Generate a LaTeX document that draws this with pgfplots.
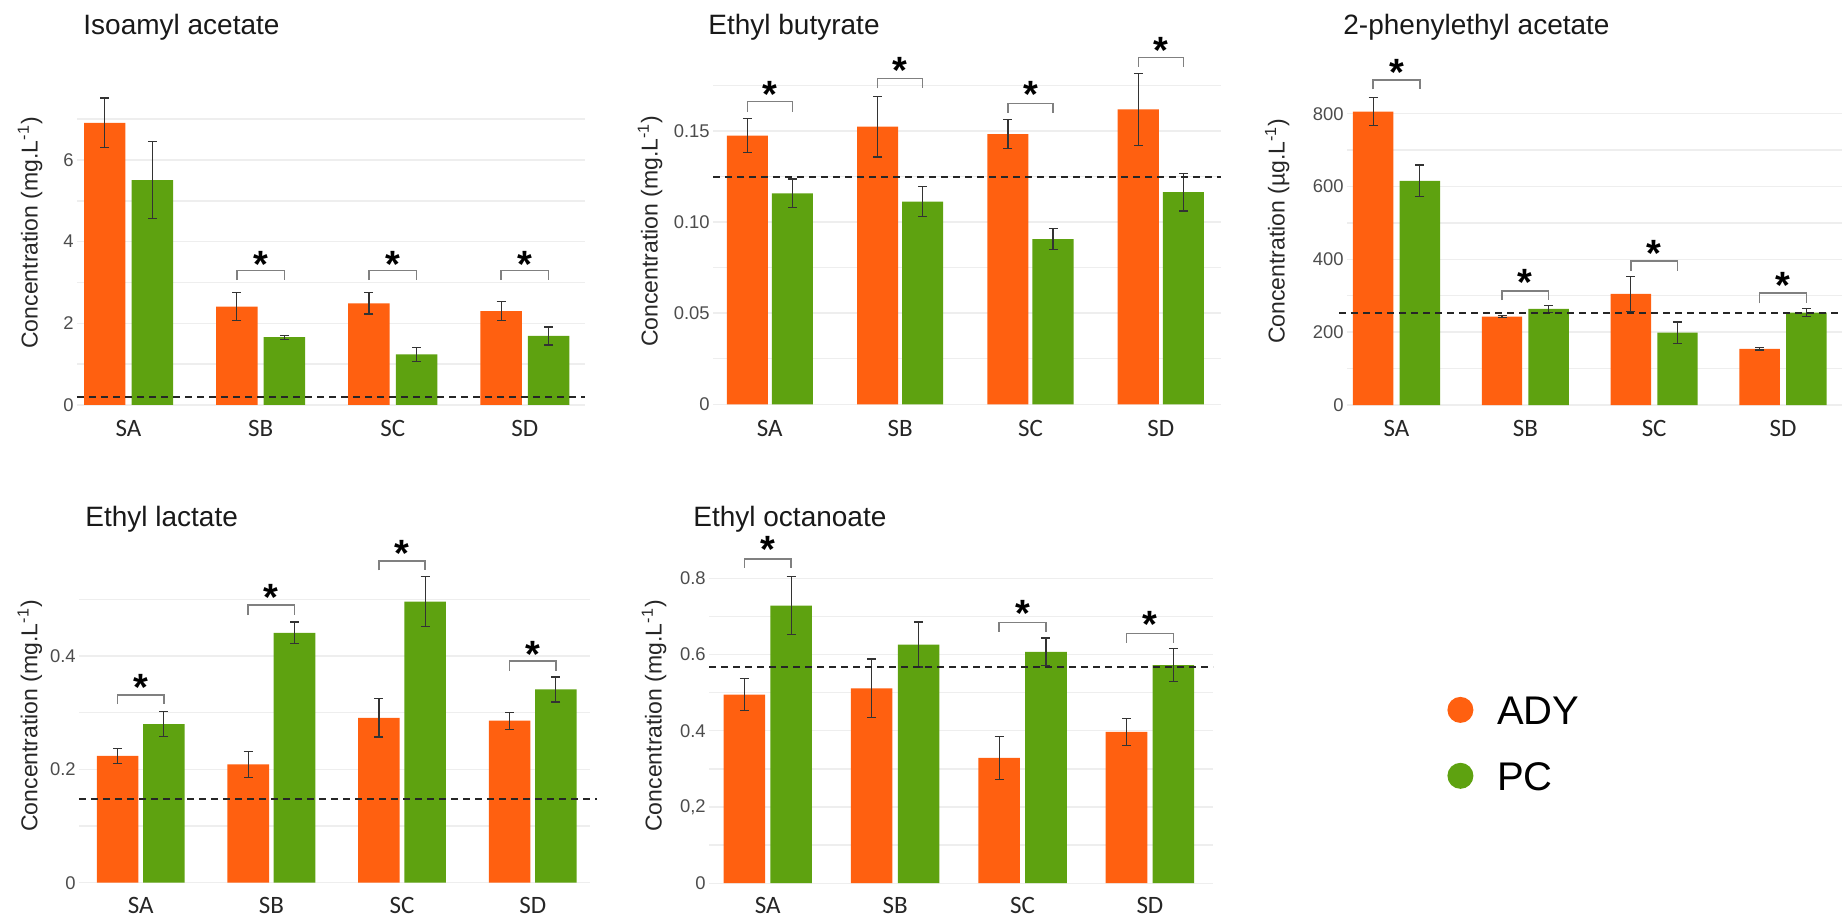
\documentclass[border=0pt]{standalone}
\usepackage{fontspec}
\setmainfont{Liberation Sans}
\newfontfamily\carlito{Carlito}
\usepackage{pgfplots}
\usepackage{pgfplotstable}
\pgfplotsset{compat=1.18}
\definecolor{ady}{RGB}{255,96,16}
\definecolor{pc}{RGB}{94,162,16}
\definecolor{gridc}{RGB}{238,238,238}

\pgfplotstableread{
xa xb ady adye pc pce
-0.18 0.18 6.91 0.61 5.51 0.94
0.82 1.18 2.41 0.34 1.66 0.05
1.82 2.18 2.49 0.26 1.24 0.17
2.82 3.18 2.30 0.24 1.69 0.22
}\isoamyl
\pgfplotstableread{
xa xb ady adye pc pce
-0.173 0.173 0.1475 0.0093 0.1158 0.0078
0.827 1.173 0.1524 0.0167 0.1112 0.0082
1.827 2.173 0.1482 0.0080 0.0906 0.0058
2.827 3.173 0.1619 0.0198 0.1164 0.0103
}\butyrate
\pgfplotstableread{
xa xb ady adye pc pce
-0.181 0.181 806 39 616 43
0.819 1.181 243 3 264 9
1.819 2.181 305 48 199 29
2.819 3.181 154 3 254 11
}\phenyl
\pgfplotstableread{
xa xb ady adye pc pce
-0.177 0.177 0.224 0.013 0.280 0.022
0.823 1.177 0.209 0.023 0.441 0.019
1.823 2.177 0.291 0.034 0.496 0.044
2.823 3.177 0.286 0.015 0.341 0.022
}\lactate
\pgfplotstableread{
xa xb ady adye pc pce
-0.184 0.184 0.495 0.041 0.728 0.076
0.816 1.184 0.511 0.077 0.626 0.059
1.816 2.184 0.329 0.056 0.607 0.036
2.816 3.184 0.397 0.035 0.572 0.043
}\octanoate

\tikzset{sig/.style={font=\bfseries\fontsize{19}{20}\selectfont, anchor=base, yshift=-11pt, text=black}}
\pgfplotsset{
  panel/.style={
    scale only axis, anchor=south west, clip=false,
    axis line style={draw=none}, tick style={draw=none},
    major tick length=0pt, minor tick length=0pt,
    ymajorgrids, yminorgrids,
    major grid style={draw=gridc, line width=0.7pt},
    minor grid style={draw=gridc, line width=0.7pt},
    xtick={0,1,2,3}, xticklabels={SA,SB,SC,SD},
    xticklabel style={font=\carlito\fontsize{12.5}{15}\selectfont, text=black!85, anchor=base, yshift=-15pt},
    yticklabel style={font=\fontsize{9.2}{11}\selectfont, text=black!70, inner sep=1.5pt},
    ylabel style={font=\fontsize{11.5}{14}\selectfont, text=black!85, anchor=center},
    scaled y ticks=false,
  },
  ebars/.style={error bars/y dir=both, error bars/y explicit,
    error bars/error mark=|,
    error bars/error bar style={line width=0.6pt, black!80},
    error bars/error mark options={line width=0.6pt, black!80, mark size=2.25pt}},
  barA/.style={ybar, fill=ady, draw=none, bar width=#1, bar shift=0pt, ebars},
  barB/.style={ybar, fill=pc, draw=none, bar width=#1, bar shift=0pt, ebars},
  thr/.style={black!85, line width=1pt, dash pattern=on 3.5pt off 2.5pt},
  brk/.style={black!50, line width=0.75pt},
}
\newcommand\ttl{\fontsize{14}{16}\selectfont}

\begin{document}
\begin{tikzpicture}
\useasboundingbox (0,0) rectangle (921pt,458.5pt);

% Titles
\node[anchor=base west, font=\ttl, text=black!90, inner sep=0pt] at (41.5pt,441.35pt) {Isoamyl acetate};
\node[anchor=base west, font=\ttl, text=black!90, inner sep=0pt] at (354pt,441.35pt) {Ethyl butyrate};
\node[anchor=base west, font=\ttl, text=black!90, inner sep=0pt] at (671.5pt,441.35pt) {2-phenylethyl acetate};
\node[anchor=base west, font=\ttl, text=black!90, inner sep=0pt] at (42.5pt,195.15pt) {Ethyl lactate};
\node[anchor=base west, font=\ttl, text=black!90, inner sep=0pt] at (346.5pt,195.15pt) {Ethyl octanoate};

% Panel 1: Isoamyl acetate
\begin{axis}[panel, at={(38.5pt,255.4pt)}, width=254pt, height=157.8pt,
  xmin=-0.39, xmax=3.455, ymin=-0.03, ymax=7.7,
  ytick={0,2,4,6}, yticklabels={0,2,4,6}, minor ytick={1,3,5,7},
  ylabel={Concentration (mg.L\textsuperscript{-1})},
  ylabel style={at={(axis description cs:-0.0925,0.549)}}]
\addplot[barA=0.314] table[x=xa, y=ady, y error=adye] {\isoamyl};
\addplot[barB=0.314] table[x=xb, y=pc, y error=pce] {\isoamyl};
\addplot[thr] coordinates {(-0.39,0.19) (3.455,0.19)};
\addplot[brk] coordinates {(0.82,3.06) (0.82,3.29) (1.18,3.29) (1.18,3.06)};
\addplot[brk] coordinates {(1.82,3.06) (1.82,3.29) (2.18,3.29) (2.18,3.06)};
\addplot[brk] coordinates {(2.82,3.06) (2.82,3.29) (3.18,3.29) (3.18,3.06)};
\node[sig] at (axis cs:1,3.67) {*};
\node[sig] at (axis cs:2,3.67) {*};
\node[sig] at (axis cs:3,3.67) {*};
\end{axis}

% Panel 2: Ethyl butyrate
\begin{axis}[panel, at={(356.5pt,255pt)}, width=254pt, height=165.35pt,
  xmin=-0.436, xmax=3.462, ymin=-0.0015, ymax=0.18,
  ytick={0,0.05,0.10,0.15}, yticklabels={0,0.05,0.10,0.15}, minor ytick={0.025,0.075,0.125,0.175},
  ylabel={Concentration (mg.L\textsuperscript{-1})},
  ylabel style={at={(axis description cs:-0.124,0.532)}}]
\addplot[barA=0.315] table[x=xa, y=ady, y error=adye] {\butyrate};
\addplot[barB=0.315] table[x=xb, y=pc, y error=pce] {\butyrate};
\addplot[thr] coordinates {(-0.436,0.125) (3.462,0.125)};
\addplot[brk] coordinates {(-0.173,0.1606) (-0.173,0.1661) (0.173,0.1661) (0.173,0.1606)};
\addplot[brk] coordinates {(0.827,0.1734) (0.827,0.1789) (1.173,0.1789) (1.173,0.1734)};
\addplot[brk] coordinates {(1.827,0.1600) (1.827,0.1652) (2.173,0.1652) (2.173,0.1600)};
\addplot[brk] coordinates {(2.827,0.1853) (2.827,0.1903) (3.173,0.1903) (3.173,0.1853)};
\node[sig] at (axis cs:0,0.1747) {*};
\node[sig] at (axis cs:1,0.188) {*};
\node[sig] at (axis cs:2,0.1747) {*};
\node[sig] at (axis cs:3,0.199) {*};
\end{axis}

% Panel 3: 2-phenylethyl acetate
\begin{axis}[panel, at={(673.5pt,255.45pt)}, width=247.5pt, height=149.8pt,
  xmin=-0.384, xmax=3.458, ymin=-3, ymax=820,
  ytick={0,200,400,600,800}, yticklabels={0,200,400,600,800}, minor ytick={100,300,500,700},
  ylabel={Concentration (µg.L\textsuperscript{-1})},
  ylabel style={at={(axis description cs:-0.141,0.584)}}]
\addplot[barA=0.314] table[x=xa, y=ady, y error=adye] {\phenyl};
\addplot[barB=0.314] table[x=xb, y=pc, y error=pce] {\phenyl};
\addplot[thr] coordinates {(-0.446,254) (3.458,254)};
\addplot[brk] coordinates {(-0.181,867) (-0.181,893) (0.181,893) (0.181,867)};
\addplot[brk] coordinates {(0.819,288) (0.819,313) (1.181,313) (1.181,288)};
\addplot[brk] coordinates {(1.819,369) (1.819,396) (2.181,396) (2.181,369)};
\addplot[brk] coordinates {(2.819,279) (2.819,307) (3.181,307) (3.181,279)};
\node[sig] at (axis cs:0,939) {*};
\node[sig] at (axis cs:1,362) {*};
\node[sig] at (axis cs:2,440) {*};
\node[sig] at (axis cs:3,353) {*};
\end{axis}

% Panel 4: Ethyl lactate
\begin{axis}[panel, at={(39.5pt,15.75pt)}, width=255.5pt, height=145.9pt,
  xmin=-0.472, xmax=3.438, ymin=-0.005, ymax=0.51,
  ytick={0,0.2,0.4}, yticklabels={0,0.2,0.4}, minor ytick={0.1,0.3,0.5},
  xticklabel style={yshift=1.2pt},
  ylabel={Concentration (mg.L\textsuperscript{-1})},
  ylabel style={at={(axis description cs:-0.096,0.581)}}]
\addplot[barA=0.318] table[x=xa, y=ady, y error=adye] {\lactate};
\addplot[barB=0.318] table[x=xb, y=pc, y error=pce] {\lactate};
\addplot[thr] coordinates {(-0.472,0.148) (3.49,0.148)};
\addplot[brk] coordinates {(-0.177,0.315) (-0.177,0.331) (0.177,0.331) (0.177,0.315)};
\addplot[brk] coordinates {(0.823,0.472) (0.823,0.490) (1.177,0.490) (1.177,0.472)};
\addplot[brk] coordinates {(1.823,0.551) (1.823,0.568) (2.177,0.568) (2.177,0.551)};
\addplot[brk] coordinates {(2.823,0.374) (2.823,0.391) (3.177,0.391) (3.177,0.374)};
\node[sig] at (axis cs:0,0.361) {*};
\node[sig] at (axis cs:1,0.519) {*};
\node[sig] at (axis cs:2,0.596) {*};
\node[sig] at (axis cs:3,0.419) {*};
\end{axis}

% Panel 5: Ethyl octanoate
\begin{axis}[panel, at={(354.5pt,15.55pt)}, width=252pt, height=157.65pt,
  xmin=-0.461, xmax=3.495, ymin=-0.007, ymax=0.82,
  ytick={0,0.2,0.4,0.6,0.8}, yticklabels={0,{0,2},0.4,0.6,0.8}, minor ytick={0.1,0.3,0.5,0.7},
  xticklabel style={yshift=1.2pt},
  ylabel={Concentration (mg.L\textsuperscript{-1})},
  ylabel style={at={(axis description cs:-0.109,0.539)}},
  legend style={at={(axis description cs:1.4643,0.4469)}, anchor=west, draw=none, fill=none,
    font=\fontsize{20}{24}\selectfont, row sep=17.5pt, column sep=11.8pt, inner sep=0pt,
    nodes={inner sep=0pt, anchor=base west}},
  legend cell align=left,
  legend image code/.code={\fill[#1] (6.5pt,7.2pt) circle (6.5pt);}]
\addplot[barA=0.326, forget plot] table[x=xa, y=ady, y error=adye] {\octanoate};
\addplot[barB=0.326, forget plot] table[x=xb, y=pc, y error=pce] {\octanoate};
\addplot[thr, forget plot] coordinates {(-0.461,0.568) (3.495,0.568)};
\addplot[brk, forget plot] coordinates {(-0.184,0.827) (-0.184,0.850) (0.184,0.850) (0.184,0.827)};
\addplot[brk, forget plot] coordinates {(1.816,0.660) (1.816,0.684) (2.184,0.684) (2.184,0.660)};
\addplot[brk, forget plot] coordinates {(2.816,0.631) (2.816,0.655) (3.184,0.655) (3.184,0.631)};
\node[sig] at (axis cs:0,0.900) {*};
\node[sig] at (axis cs:2,0.730) {*};
\node[sig] at (axis cs:3,0.701) {*};
\addlegendimage{fill=ady, draw=none}
\addlegendentry{ADY}
\addlegendimage{fill=pc, draw=none}
\addlegendentry{PC}
\end{axis}
\end{tikzpicture}
\end{document}
